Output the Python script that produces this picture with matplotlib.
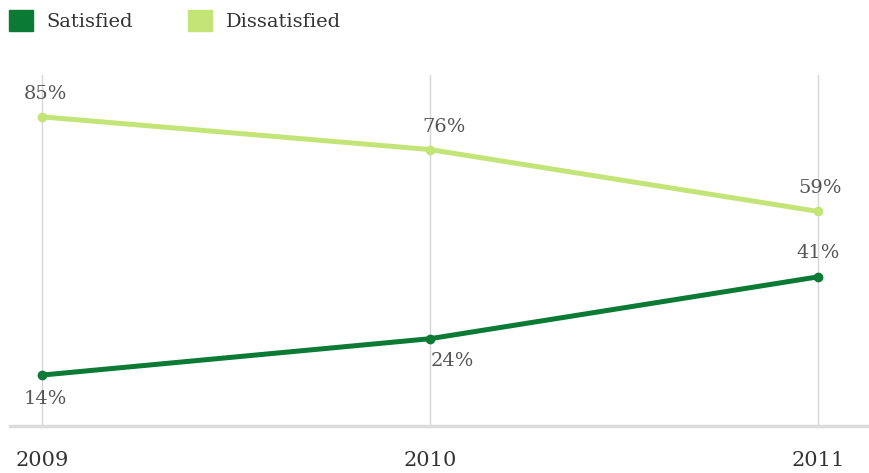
import matplotlib.pyplot as plt
from matplotlib.patches import Patch

years = ["2009", "2010", "2011"]
satisfied = [14, 24, 41]
dissatisfied = [85, 76, 59]

dark_green = "#0b7a34"
light_green = "#c3e578"

plt.rcParams['font.family'] = ['DejaVu Serif']

fig = plt.figure(figsize=(8.7, 4.73), dpi=100)
ax = fig.add_axes([10 / 870, 1 - 426 / 473, 858 / 870, 351 / 473])

x = range(len(years))
ax.plot(x, dissatisfied, color=light_green, lw=3.6, marker="o", ms=6, zorder=3)
ax.plot(x, satisfied, color=dark_green, lw=3.6, marker="o", ms=6, zorder=3)

# value labels: dissatisfied above, satisfied below (except last point)
sat_offsets = [(3, -24), (22, -22), (0, 24)]
dis_offsets = [(3, 23), (14, 23), (2, 23)]
for i, v in enumerate(satisfied):
    ax.annotate(f"{v}%", (i, v), xytext=sat_offsets[i], textcoords="offset pixels",
                ha="center", va="center", fontsize=14, color="#555555")
for i, v in enumerate(dissatisfied):
    ax.annotate(f"{v}%", (i, v), xytext=dis_offsets[i], textcoords="offset pixels",
                ha="center", va="center", fontsize=14, color="#555555")

ax.set_xlim(-0.0825, 2.129)
ax.set_ylim(0, 96.5)
ax.set_xticks(list(x))
ax.set_xticklabels(years, fontsize=15, color="#333333")
ax.tick_params(axis="x", length=0, pad=18)
ax.set_yticks([])
ax.grid(axis="x", color="#d6d6d6", lw=1)
ax.set_axisbelow(True)
for side in ["top", "left", "right"]:
    ax.spines[side].set_visible(False)
ax.spines["bottom"].set_color("#dcdcdc")
ax.spines["bottom"].set_linewidth(2.5)

handles = [Patch(color=dark_green, label="Satisfied"),
           Patch(color=light_green, label="Dissatisfied")]
fig.legend(handles=handles, loc="upper left", bbox_to_anchor=(-0.010, 1.016), ncol=2,
           frameon=False, fontsize=14, handlelength=1.25, handleheight=1.3,
           columnspacing=2.8, handletextpad=0.7, labelcolor="#333333")

fig.savefig("out.png", dpi=100)
